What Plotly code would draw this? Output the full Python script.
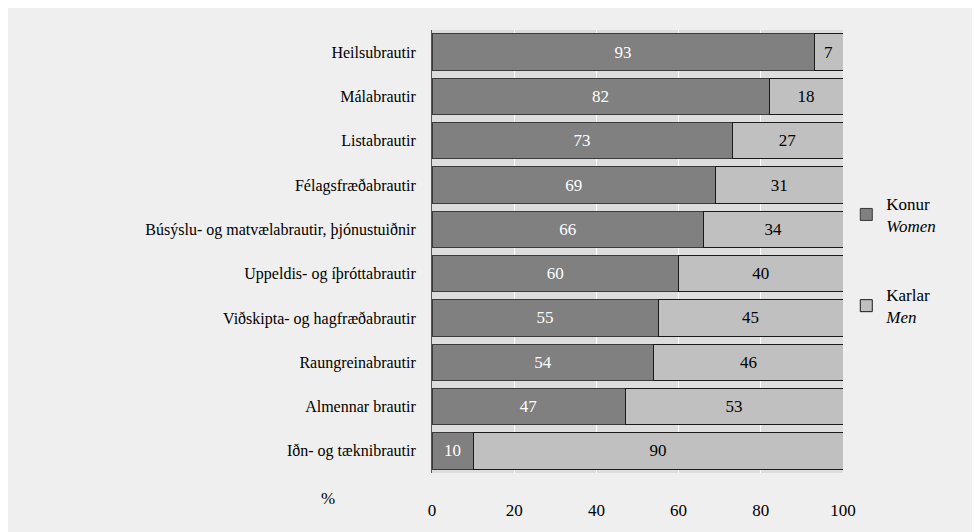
import plotly.graph_objects as go

categories = [
    "Heilsubrautir",
    "Málabrautir",
    "Listabrautir",
    "Félagsfræðabrautir",
    "Búsýslu- og matvælabrautir, þjónustuiðnir",
    "Uppeldis- og íþróttabrautir",
    "Viðskipta- og hagfræðabrautir",
    "Raungreinabrautir",
    "Almennar brautir",
    "Iðn- og tæknibrautir",
]
women = [93, 82, 73, 69, 66, 60, 55, 54, 47, 10]
men = [7, 18, 27, 31, 34, 40, 45, 46, 53, 90]
x_ticks = [0, 20, 40, 60, 80, 100]

font = "Liberation Serif"

# page has an 8px body margin, so the figure is drawn 8px smaller
W, H = 972, 524
L, R, T, B = 424, 137, 22, 50
pw, ph = W - L - R, H - T - B

fig = go.Figure()
fig.add_trace(go.Bar(
    y=categories, x=women, orientation="h", name="Konur<br><i>Women</i>",
    legendgroup="w",
    marker=dict(color="#808080", line=dict(color="#3a3a3a", width=1)),
    text=women, textposition="inside", insidetextanchor="middle",
    textfont=dict(color="white", size=17, family=font),
))
fig.add_trace(go.Bar(
    y=categories, x=men, orientation="h", name="Karlar<br><i>Men</i>",
    legendgroup="m",
    marker=dict(color="#c0c0c0", line=dict(color="#1a1a1a", width=1)),
    text=men, textposition="inside", insidetextanchor="middle",
    textfont=dict(color="black", size=17, family=font),
))

fig.add_annotation(text="%", xref="paper", yref="paper", x=(320 - L) / pw, y=-26 / ph,
                   xanchor="center", yanchor="middle",
                   showarrow=False, font=dict(family=font, size=17, color="black"))

fig.update_layout(
    width=W, height=H,
    margin=dict(l=L, r=R, t=T, b=B),
    barmode="stack", bargap=0.18,
    paper_bgcolor="#efefef", plot_bgcolor="#dddddd",
    font=dict(family=font, size=16, color="black"),
    xaxis=dict(range=[0, 100], tickvals=x_ticks, gridcolor="white",
               zeroline=False, ticks="outside", ticklen=22, tickcolor="rgba(0,0,0,0)",
               tickfont=dict(size=17, family=font, color="black")),
    yaxis=dict(autorange="reversed", showline=True, linecolor="#4a5670", linewidth=1,
               ticks="outside", ticklen=12, tickcolor="rgba(0,0,0,0)",
               tickfont=dict(size=16, family=font, color="black")),
    legend=dict(x=1.008, xanchor="left", y=0.48, yanchor="middle",
                traceorder="grouped", tracegroupgap=44,
                font=dict(size=17, family=font, color="black")),
)

fig.write_html("out.html")
